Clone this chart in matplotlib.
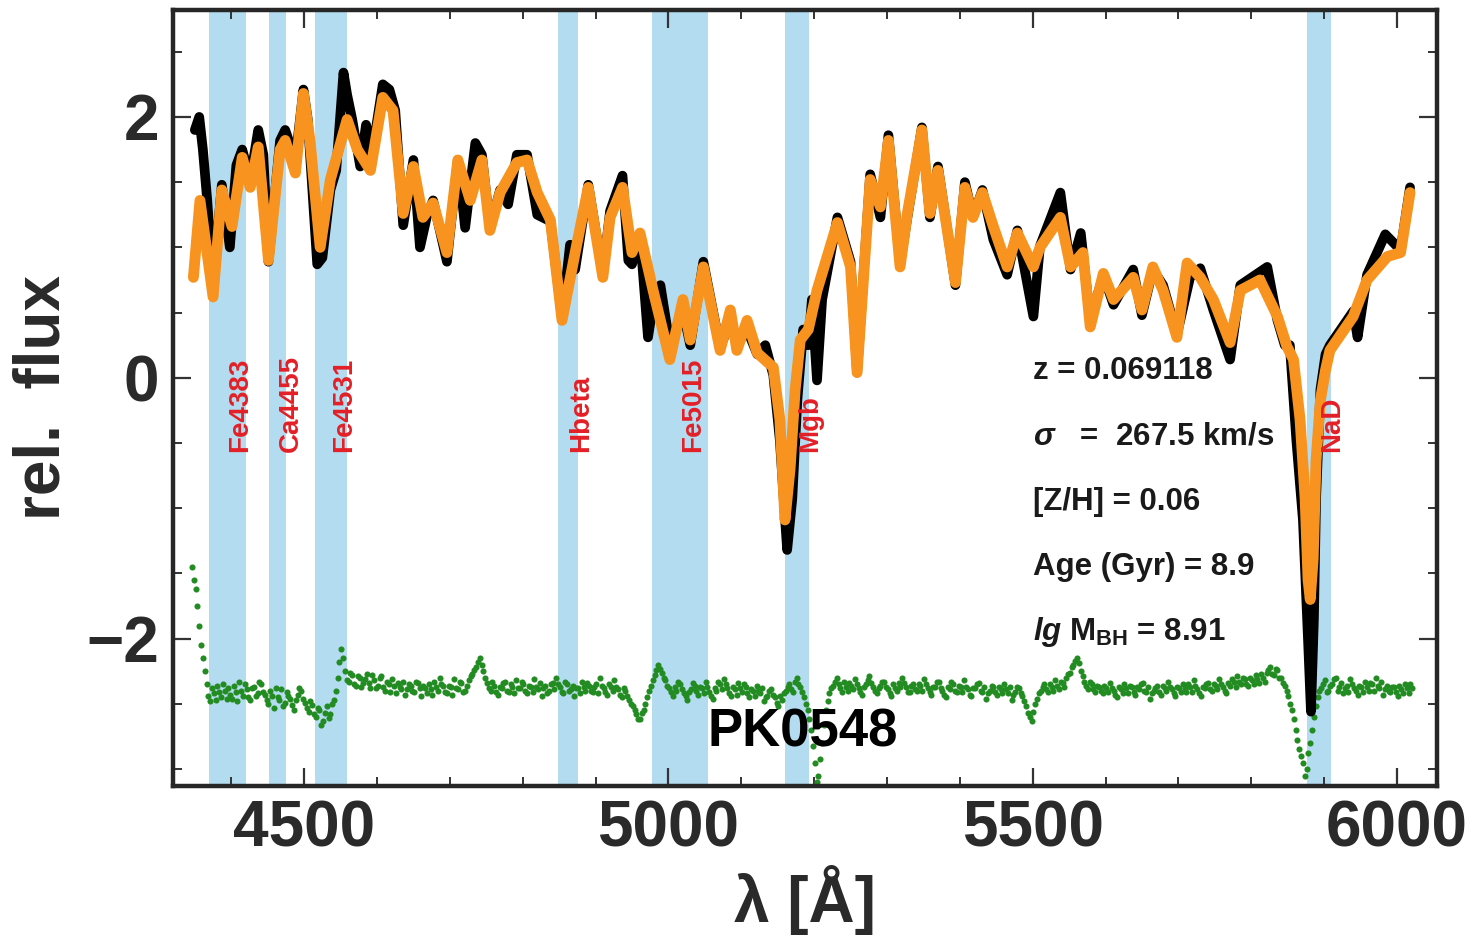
import numpy as np
import matplotlib
matplotlib.use("Agg")
import matplotlib.pyplot as plt
from matplotlib.ticker import MultipleLocator

plt.rcParams['font.family'] = ['Liberation Sans', 'DejaVu Sans']
plt.rcParams['mathtext.fontset'] = 'custom'
plt.rcParams['mathtext.rm'] = 'Liberation Sans:bold'
plt.rcParams['mathtext.it'] = 'Liberation Sans:bold:italic'
plt.rcParams['mathtext.bf'] = 'Liberation Sans:bold'

# ---------------- data ----------------
# best-fit model (orange)
model_wave = [4348, 4357, 4375, 4387, 4401, 4415, 4426, 4437, 4451, 4467, 4474, 4488, 4499,
              4508, 4522, 4536, 4559, 4573, 4591, 4608, 4622, 4636, 4650, 4663, 4677, 4696,
              4711, 4728, 4744, 4755, 4769, 4792, 4806, 4820, 4838, 4854, 4872, 4890, 4910,
              4920, 4937, 4950, 4961, 4979, 5002, 5020, 5030, 5048, 5071, 5085, 5094, 5108,
              5122, 5144, 5153, 5160, 5167, 5174, 5181, 5192, 5204, 5232, 5250, 5259, 5277,
              5291, 5302, 5318, 5328, 5348, 5359, 5370, 5394, 5407, 5418, 5431, 5446, 5465,
              5479, 5501, 5510, 5538, 5552, 5569, 5579, 5597, 5611, 5638, 5650, 5665, 5679,
              5698, 5712, 5730, 5748, 5771, 5785, 5812, 5836, 5849, 5858, 5867, 5874, 5878,
              5881, 5885, 5889, 5895, 5902, 5908, 5940, 5959, 5987, 6005, 6018]
model_flux = [0.77, 1.36, 0.62, 1.44, 1.16, 1.69, 1.46, 1.77, 0.90, 1.75, 1.82, 1.57, 2.18,
              1.82, 1.00, 1.52, 1.98, 1.75, 1.59, 2.15, 2.05, 1.26, 1.62, 1.23, 1.34, 0.96,
              1.67, 1.36, 1.67, 1.13, 1.42, 1.65, 1.67, 1.42, 1.21, 0.44, 0.96, 1.46, 0.77,
              1.23, 1.46, 0.96, 1.11, 0.67, 0.14, 0.60, 0.29, 0.85, 0.21, 0.52, 0.21, 0.44,
              0.19, 0.08, -0.32, -1.09, -0.70, -0.09, 0.29, 0.37, 0.67, 1.19, 0.85, 0.04, 1.52,
              1.31, 1.82, 0.85, 1.26, 1.90, 1.26, 1.59, 0.73, 1.46, 1.23, 1.42, 1.16, 0.85,
              1.11, 0.85, 1.00, 1.23, 0.85, 0.96, 0.39, 0.80, 0.60, 0.77, 0.52, 0.85, 0.67,
              0.31, 0.88, 0.77, 0.60, 0.27, 0.67, 0.75, 0.47, 0.24, 0.14, -0.32, -0.93, -1.55,
              -1.70, -1.39, -0.63, -0.17, 0.06, 0.21, 0.47, 0.75, 0.93, 0.96, 1.42]

# observed spectrum (black)
obs_wave = [4350, 4356, 4361, 4367, 4375, 4387, 4398, 4407, 4415, 4426, 4437, 4444, 4451,
            4467, 4474, 4488, 4499, 4505, 4518, 4525, 4536, 4544, 4554, 4559, 4566, 4577,
            4585, 4593, 4608, 4617, 4625, 4636, 4650, 4659, 4669, 4677, 4696, 4711, 4721,
            4735, 4744, 4755, 4769, 4780, 4792, 4806, 4820, 4838, 4854, 4865, 4872, 4890,
            4910, 4920, 4937, 4945, 4950, 4961, 4972, 4979, 4989, 5002, 5020, 5030, 5048,
            5071, 5085, 5094, 5108, 5122, 5133, 5144, 5153, 5163, 5170, 5177, 5185, 5192,
            5197, 5204, 5211, 5232, 5250, 5259, 5277, 5291, 5302, 5318, 5328, 5348, 5359,
            5370, 5394, 5407, 5418, 5431, 5446, 5465, 5479, 5501, 5510, 5538, 5552, 5566,
            5579, 5597, 5611, 5638, 5650, 5665, 5679, 5698, 5716, 5730, 5748, 5771, 5785,
            5822, 5836, 5846, 5853, 5862, 5871, 5878, 5882, 5886, 5889, 5895, 5902, 5908,
            5940, 5946, 5959, 5984, 6005, 6018]
obs_flux = [1.90, 2.00, 1.75, 1.36, 0.71, 1.48, 1.00, 1.63, 1.75, 1.52, 1.90, 1.71, 0.89,
            1.82, 1.90, 1.67, 2.21, 1.98, 0.87, 0.92, 1.44, 1.59, 2.34, 2.17, 1.98, 1.62,
            1.94, 1.71, 2.25, 2.21, 2.05, 1.17, 1.67, 1.00, 1.25, 1.36, 0.89, 1.67, 1.15,
            1.80, 1.71, 1.15, 1.44, 1.33, 1.71, 1.71, 1.25, 1.20, 0.46, 1.02, 0.83, 1.48,
            0.79, 1.28, 1.55, 0.90, 0.87, 1.10, 0.31, 0.56, 0.71, 0.25, 0.52, 0.25, 0.89,
            0.23, 0.44, 0.25, 0.37, 0.18, 0.25, 0.02, -0.48, -1.32, -0.93, -0.17, 0.37, 0.25,
            0.60, -0.02, 0.60, 1.23, 0.89, 0.04, 1.56, 1.23, 1.86, 0.87, 1.23, 1.92, 1.23,
            1.62, 0.71, 1.50, 1.23, 1.44, 1.06, 0.79, 1.13, 0.47, 1.01, 1.42, 0.83, 1.11,
            0.44, 0.79, 0.56, 0.83, 0.48, 0.83, 0.71, 0.33, 0.77, 0.84, 0.52, 0.14, 0.71,
            0.85, 0.44, 0.25, 0.25, -0.48, -1.09, -2.01, -2.56, -1.85, -0.93, -0.09, 0.18, 0.25,
            0.51, 0.31, 0.79, 1.10, 0.98, 1.46]

# residuals (green, offset): two interleaved samplings, every 5 A
resid_a_start = 4346.0
resid_b_start = 4348.5
resid_step = 5
resid_a = [
    -1.45, -1.62, -1.90, -2.15, -2.35, -2.48, -2.42, -2.36, -2.45, -2.40,
    -2.38, -2.46, -2.41, -2.33, -2.44, -2.39, -2.47, -2.37, -2.42, -2.35,
    -2.43, -2.50, -2.44, -2.38, -2.47, -2.52, -2.41, -2.46, -2.55, -2.43,
    -2.40, -2.49, -2.56, -2.51, -2.60, -2.55, -2.63, -2.52, -2.58, -2.47,
    -2.30, -2.08, -2.25, -2.33, -2.28, -2.36, -2.30, -2.34, -2.27, -2.38,
    -2.32, -2.36, -2.29, -2.40, -2.35, -2.31, -2.42, -2.37, -2.33, -2.39,
    -2.36, -2.41, -2.34, -2.44, -2.38, -2.35, -2.43, -2.37, -2.30, -2.36,
    -2.42, -2.37, -2.31, -2.39, -2.34, -2.40, -2.32, -2.27, -2.22, -2.15,
    -2.25, -2.34, -2.40, -2.36, -2.43, -2.38, -2.33, -2.41, -2.37, -2.32,
    -2.38, -2.35, -2.42, -2.37, -2.31, -2.39, -2.44, -2.36, -2.40, -2.34,
    -2.30, -2.37, -2.42, -2.35, -2.39, -2.44, -2.38, -2.33, -2.40, -2.36,
    -2.41, -2.35, -2.30, -2.38, -2.43, -2.37, -2.32, -2.39, -2.45, -2.40,
    -2.47, -2.52, -2.58, -2.62, -2.55, -2.45, -2.36, -2.28, -2.20, -2.26,
    -2.32, -2.38, -2.44, -2.40, -2.35, -2.42, -2.47, -2.39, -2.36, -2.43,
    -2.38, -2.33, -2.41, -2.46, -2.40, -2.35, -2.31, -2.38, -2.44, -2.39,
    -2.34, -2.41, -2.37, -2.45, -2.40, -2.36, -2.42, -2.48, -2.44, -2.39,
    -2.45, -2.52, -2.47, -2.40, -2.35, -2.41, -2.30, -2.37, -2.45, -2.55,
    -2.70, -2.95, -3.05, -2.80, -2.55, -2.42, -2.36, -2.30, -2.38, -2.33,
    -2.40, -2.36, -2.31, -2.38, -2.43, -2.35, -2.29, -2.37, -2.42, -2.36,
    -2.33, -2.39, -2.44, -2.38, -2.34, -2.30, -2.37, -2.41, -2.35, -2.40,
    -2.36, -2.31, -2.38, -2.43, -2.37, -2.33, -2.40, -2.45, -2.39, -2.35,
    -2.41, -2.37, -2.32, -2.39, -2.44, -2.38, -2.34, -2.41, -2.46, -2.40,
    -2.37, -2.43, -2.39, -2.35, -2.42, -2.47, -2.41, -2.38, -2.44, -2.52,
    -2.60, -2.56, -2.46, -2.40, -2.35, -2.41, -2.37, -2.32, -2.39, -2.34,
    -2.30, -2.26, -2.20, -2.15, -2.25, -2.33, -2.39, -2.35, -2.41, -2.37,
    -2.42, -2.38, -2.34, -2.40, -2.45, -2.39, -2.35, -2.42, -2.37, -2.43,
    -2.39, -2.34, -2.41, -2.46, -2.40, -2.36, -2.43, -2.38, -2.33, -2.39,
    -2.44, -2.38, -2.35, -2.41, -2.37, -2.32, -2.39, -2.44, -2.38, -2.34,
    -2.40, -2.36, -2.31, -2.37, -2.42, -2.36, -2.33, -2.29, -2.35, -2.31,
    -2.36, -2.32, -2.28, -2.34, -2.30, -2.26, -2.22, -2.28, -2.24, -2.30,
    -2.36, -2.44, -2.55, -2.70, -2.85, -2.95, -3.00, -2.80, -2.60, -2.45,
    -2.38, -2.32, -2.40, -2.35, -2.30, -2.37, -2.42, -2.36, -2.31, -2.38,
    -2.43, -2.37, -2.33, -2.40, -2.35, -2.30, -2.38, -2.43, -2.36, -2.41,
    -2.37, -2.44, -2.39, -2.35, -2.42, -2.38,
]
resid_b = [
    -1.55, -1.75, -2.05, -2.25, -2.44, -2.38, -2.47, -2.41, -2.35, -2.46,
    -2.43, -2.36, -2.48, -2.40, -2.35, -2.45, -2.38, -2.44, -2.33, -2.41,
    -2.47, -2.40, -2.53, -2.45, -2.39, -2.49, -2.44, -2.51, -2.47, -2.38,
    -2.46, -2.53, -2.48, -2.58, -2.53, -2.66, -2.57, -2.61, -2.50, -2.40,
    -2.18, -2.15, -2.32, -2.26, -2.35, -2.29, -2.37, -2.31, -2.34, -2.28,
    -2.38, -2.30, -2.37, -2.33, -2.41, -2.36, -2.34, -2.39, -2.43, -2.35,
    -2.40, -2.33, -2.38, -2.36, -2.42, -2.39, -2.33, -2.40, -2.35, -2.41,
    -2.36, -2.43, -2.38, -2.33, -2.41, -2.36, -2.29, -2.24, -2.18, -2.20,
    -2.30, -2.38, -2.33, -2.41, -2.37, -2.34, -2.40, -2.35, -2.42, -2.38,
    -2.33, -2.40, -2.36, -2.41, -2.37, -2.34, -2.38, -2.42, -2.35, -2.39,
    -2.35, -2.41, -2.33, -2.40, -2.36, -2.38, -2.42, -2.37, -2.34, -2.40,
    -2.37, -2.42, -2.36, -2.41, -2.35, -2.40, -2.37, -2.43, -2.38, -2.44,
    -2.50, -2.55, -2.62, -2.57, -2.50, -2.40, -2.32, -2.24, -2.23, -2.30,
    -2.36, -2.41, -2.37, -2.33, -2.39, -2.44, -2.41, -2.34, -2.40, -2.37,
    -2.42, -2.37, -2.44, -2.38, -2.33, -2.39, -2.35, -2.42, -2.37, -2.43,
    -2.38, -2.35, -2.42, -2.39, -2.44, -2.40, -2.38, -2.45, -2.40, -2.43,
    -2.49, -2.44, -2.42, -2.37, -2.39, -2.33, -2.35, -2.41, -2.50, -2.62,
    -2.82, -3.10, -2.92, -2.66, -2.48, -2.38, -2.33, -2.35, -2.41, -2.37,
    -2.34, -2.39, -2.35, -2.41, -2.37, -2.32, -2.34, -2.40, -2.38, -2.33,
    -2.37, -2.42, -2.35, -2.40, -2.37, -2.34, -2.41, -2.36, -2.39, -2.35,
    -2.40, -2.35, -2.41, -2.37, -2.33, -2.38, -2.43, -2.37, -2.33, -2.40,
    -2.36, -2.41, -2.37, -2.43, -2.38, -2.35, -2.40, -2.37, -2.42, -2.36,
    -2.41, -2.37, -2.42, -2.39, -2.37, -2.43, -2.37, -2.42, -2.48, -2.57,
    -2.63, -2.50, -2.42, -2.37, -2.39, -2.35, -2.40, -2.36, -2.33, -2.37,
    -2.27, -2.22, -2.17, -2.19, -2.29, -2.36, -2.33, -2.39, -2.36, -2.40,
    -2.36, -2.41, -2.38, -2.43, -2.37, -2.42, -2.38, -2.36, -2.41, -2.37,
    -2.35, -2.40, -2.37, -2.42, -2.38, -2.41, -2.36, -2.40, -2.37, -2.42,
    -2.37, -2.41, -2.38, -2.35, -2.41, -2.36, -2.42, -2.37, -2.35, -2.39,
    -2.35, -2.39, -2.35, -2.40, -2.34, -2.31, -2.37, -2.33, -2.30, -2.35,
    -2.30, -2.35, -2.31, -2.27, -2.33, -2.24, -2.27, -2.23, -2.30, -2.34,
    -2.40, -2.50, -2.62, -2.78, -2.90, -3.05, -2.88, -2.70, -2.52, -2.40,
    -2.35, -2.41, -2.36, -2.31, -2.40, -2.34, -2.38, -2.41, -2.35, -2.40,
    -2.36, -2.41, -2.37, -2.34, -2.40, -2.36, -2.33, -2.39, -2.40, -2.37,
    -2.41, -2.36, -2.42, -2.38, -2.35,
]

# Lick index bands
index_names = ["Fe4383", "Ca4455", "Fe4531", "Hbeta", "Fe5015", "Mgb", "NaD"]
index_lo = [4369.1, 4452.1, 4514.3, 4847.9, 4977.8, 5160.1, 5876.9]
index_hi = [4420.4, 4474.6, 4559.3, 4876.6, 5054.0, 5192.6, 5909.4]

galaxy = "PK0548"
stats = ["z = 0.069118",
         r"$\sigma$   =  267.5 km/s",
         "[Z/H] = 0.06",
         "Age (Gyr) = 8.9",
         r"$lg$ M$_{\mathrm{BH}}$ = 8.91"]

# ---------------- plot ----------------
fig = plt.figure(figsize=(14.74, 9.46), dpi=100)
ax = fig.add_axes([173/1474, 160/946, 1264/1474, 776/946])

band_color = '#b4dcf0'
for lo, hi in zip(index_lo, index_hi):
    ax.axvspan(lo, hi, color=band_color, lw=0, zorder=0)

green = '#228b22'
for start, vals in ((resid_a_start, resid_a), (resid_b_start, resid_b)):
    wave = start + resid_step * np.arange(len(vals))
    ax.plot(wave, vals, 'o', color=green, ms=4.4, mec='none', zorder=2)

ax.plot(obs_wave, obs_flux, color='black', lw=7.0, solid_joinstyle='round',
        solid_capstyle='round', zorder=3)
ax.plot(model_wave, model_flux, color='#f7931e', lw=7.8, solid_joinstyle='round',
        solid_capstyle='round', zorder=4)

for name, lo, hi in zip(index_names, index_lo, index_hi):
    ax.text((lo + hi) / 2, -0.57, name, rotation=90, color='#e41f26', fontsize=20,
            fontweight='bold', ha='left', va='bottom', zorder=5)

for i, s in enumerate(stats):
    ax.text(5500, 0.05 - 0.5 * i, s, fontsize=22.5, fontweight='bold', color='#1a1a1a',
            ha='left', va='center', zorder=6)

ax.text(5185, -2.72, galaxy, fontsize=38, fontweight='bold', color='black',
        ha='center', va='center', zorder=6)

ax.set_xlim(4320, 6055)
ax.set_ylim(-3.13, 2.82)
ax.xaxis.set_major_locator(MultipleLocator(500))
ax.xaxis.set_minor_locator(MultipleLocator(100))
ax.yaxis.set_major_locator(MultipleLocator(2))
ax.yaxis.set_minor_locator(MultipleLocator(0.5))

ax.tick_params(which='both', direction='in', top=True, right=True, color='#333333')
ax.tick_params(which='major', length=13, width=1.6, labelsize=46, pad=10,
               labelcolor='#2a2a2a')
ax.tick_params(which='minor', length=6.5, width=1.4)
for lab in ax.get_xticklabels() + ax.get_yticklabels():
    lab.set_fontweight('bold')
for sp in ax.spines.values():
    sp.set_linewidth(3.2)
    sp.set_color('#262626')

ax.set_xlabel("λ [Å]", fontsize=46, fontweight='bold', color='#2a2a2a', labelpad=4)
ax.set_ylabel("rel.  flux", fontsize=46, fontweight='bold', color='#2a2a2a', labelpad=10)

fig.savefig("out.png", dpi=100)
